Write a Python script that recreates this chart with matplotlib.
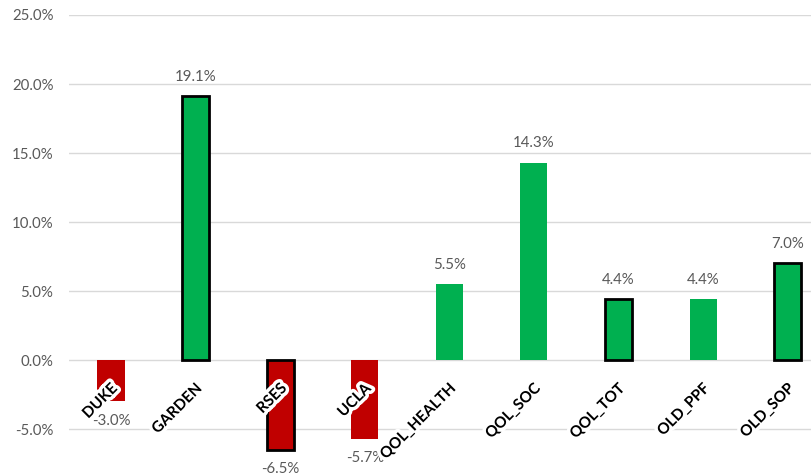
import matplotlib
matplotlib.use("Agg")
import matplotlib.pyplot as plt
import matplotlib.patheffects as pe
from matplotlib.ticker import FuncFormatter

categories = ["DUKE", "GARDEN", "RSES", "UCLA", "QOL_HEALTH", "QOL_SOC", "QOL_TOT", "OLD_PPF", "OLD_SOP"]
values = [-3.0, 19.1, -6.5, -5.7, 5.5, 14.3, 4.4, 4.4, 7.0]
outlined = [False, True, True, False, False, False, True, False, True]
yticks = [-5, 0, 5, 10, 15, 20, 25]

GREEN = "#00B050"
RED = "#C00000"
GRAY = "#595959"

plt.rcParams['font.family'] = ['Lato', 'DejaVu Sans']

fig = plt.figure(figsize=(8.12, 4.76), dpi=100)
W, H = 812, 476
left_px, right_px = 68.7, 830
top_px, bottom_px = 15, 476
ax = fig.add_axes([left_px / W, 1 - bottom_px / H, (right_px - left_px) / W, (bottom_px - top_px) / H])
ax.set_xlim(-0.5, len(categories) - 0.5)
ax.set_ylim(-8.4, 25)

for s in ax.spines.values():
    s.set_visible(False)
ax.set_yticks(yticks)
ax.yaxis.set_major_formatter(FuncFormatter(lambda v, p: f"{v:.1f}%"))
ax.tick_params(axis='y', length=0, pad=11, labelsize=10.8, labelcolor=GRAY)
ax.set_xticks([])
ax.grid(axis='y', color="#D9D9D9", linewidth=1)
ax.set_axisbelow(True)

x = list(range(len(categories)))
colors = [GREEN if v >= 0 else RED for v in values]
edges = ["black" if o else "none" for o in outlined]
lws = [2.0 if o else 0 for o in outlined]
ax.bar(x, values, width=0.32, color=colors, edgecolor=edges, linewidth=lws, zorder=2)

for xi, v in zip(x, values):
    off = 14 if v >= 0 else -14
    ax.annotate(f"{v:.1f}%", (xi, v), xytext=(0, off), textcoords="offset points",
                ha="center", va="center", fontsize=10.8, color=GRAY, zorder=4)

for xi, c in zip(x, categories):
    ax.annotate(c, (xi, 0), xytext=(3, -19), textcoords="offset points",
                ha="right", va="center", rotation=45, rotation_mode="anchor",
                fontsize=11, fontweight="bold", color="black", zorder=5,
                path_effects=[pe.withStroke(linewidth=5, foreground="white")])

fig.savefig("out.png", dpi=100)
